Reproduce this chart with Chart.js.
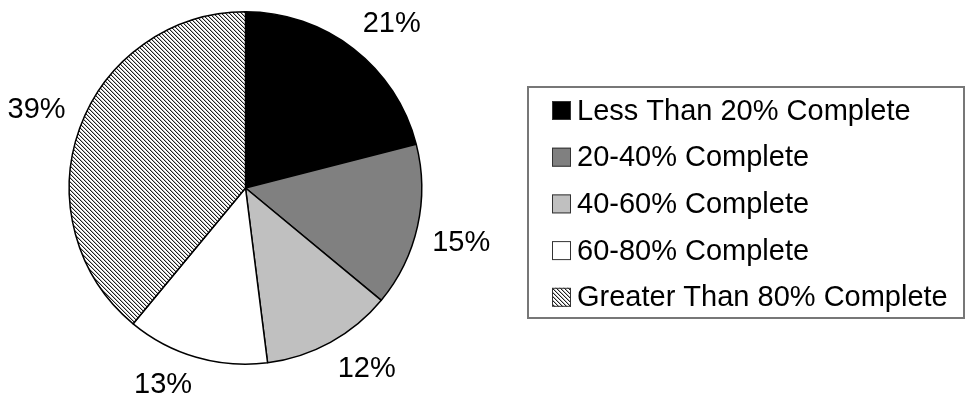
<!DOCTYPE html>
<html>
<head>
<meta charset="utf-8">
<script src="https://cdn.jsdelivr.net/npm/chart.js@4.4.0/dist/chart.umd.min.js"></script>
<style>
body { margin: 0; background: #fff; }
canvas { display: block; }
</style>
</head>
<body>
<canvas id="chart" width="966" height="402"></canvas>
<script>
const categories = ['Less Than 20% Complete', '20-40% Complete', '40-60% Complete', '60-80% Complete', 'Greater Than 80% Complete'];
const shares = [21, 15, 12, 13, 39];
const solidFills = ['#000000', '#808080', '#c0c0c0', '#ffffff'];

const FONT = '29px "Liberation Sans", Arial, sans-serif';
const canvas = document.getElementById('chart');
const ctx = canvas.getContext('2d');

// 4px diagonal stripes for the last slice
function makeHatch() {
    const tile = document.createElement('canvas');
    tile.width = 4;
    tile.height = 4;
    const g = tile.getContext('2d');
    const img = g.createImageData(4, 4);
    for (let y = 0; y < 4; y++) {
        for (let x = 0; x < 4; x++) {
            const k = ((x - y) % 4 + 4) % 4;
            const v = k === 0 ? 30 : k === 1 ? 185 : 255;
            const i = (y * 4 + x) * 4;
            img.data[i] = img.data[i + 1] = img.data[i + 2] = v;
            img.data[i + 3] = 255;
        }
    }
    g.putImageData(img, 0, 0);
    return ctx.createPattern(tile, 'repeat');
}

const hatch = makeHatch();
const fills = solidFills.concat([hatch]);

// percentage text outside each slice: the label corner nearest the pie sits on the mid-angle ray
const pieLabels = {
    id: 'pieLabels',
    afterDatasetsDraw(chart) {
        const c = chart.ctx;
        const arcs = chart.getDatasetMeta(0).data;
        c.save();
        c.font = FONT;
        c.fillStyle = '#000';
        c.textAlign = 'center';
        c.textBaseline = 'middle';
        arcs.forEach((arc, i) => {
            const text = shares[i] + '%';
            const mid = (arc.startAngle + arc.endAngle) / 2;
            const dx = Math.cos(mid), dy = Math.sin(mid);
            const hw = c.measureText(text).width / 2, hh = 13;
            const R = arc.outerRadius + 15;
            const x = arc.x + dx * R + Math.sign(dx) * hw;
            const y = arc.y + dy * R + Math.sign(dy) * hh;
            c.fillText(text, x, y);
        });
        c.restore();
    }
};

// boxed legend on the right
const boxLegend = {
    id: 'boxLegend',
    afterDraw(chart) {
        const c = chart.ctx;
        c.save();
        c.lineWidth = 2;
        c.strokeStyle = '#777';
        c.strokeRect(528, 87, 436, 231);
        c.font = FONT;
        c.textBaseline = 'middle';
        categories.forEach((name, i) => {
            const y = 110.5 + i * 46.7;
            c.fillStyle = fills[i];
            c.fillRect(552, y - 9.5, 19, 19);
            c.lineWidth = 1;
            c.strokeStyle = '#333';
            c.strokeRect(552.5, y - 9, 18, 18);
            c.fillStyle = '#000';
            c.fillText(name, 577, y + 1);
        });
        c.restore();
    }
};

new Chart(ctx, {
    type: 'pie',
    data: {
        labels: categories,
        datasets: [{
            data: shares,
            backgroundColor: fills,
            borderColor: '#000',
            borderWidth: 1.5
        }]
    },
    options: {
        responsive: false,
        animation: false,
        layout: { padding: { left: 68, right: 543, top: 11, bottom: 37 } },
        plugins: {
            legend: { display: false },
            tooltip: { enabled: false }
        }
    },
    plugins: [pieLabels, boxLegend]
});
</script>
</body>
</html>
